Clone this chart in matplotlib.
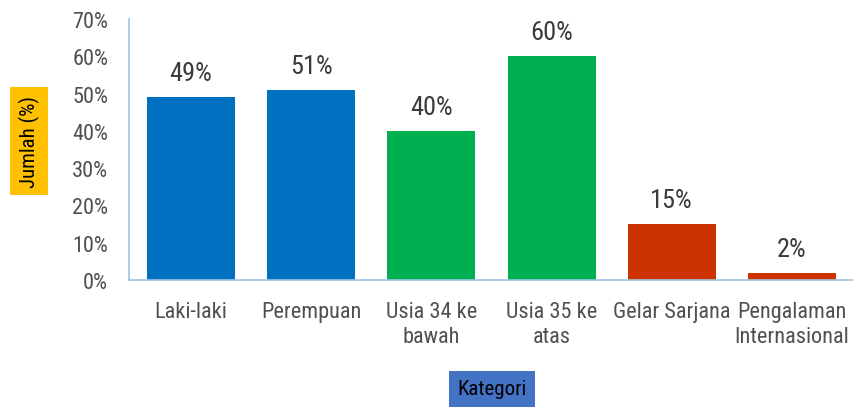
import matplotlib
matplotlib.use("Agg")
import matplotlib.pyplot as plt
from matplotlib import font_manager

categories = ["Laki-laki", "Perempuan", "Usia 34 ke\nbawah", "Usia 35 ke\natas", "Gelar Sarjana", "Pengalaman\nInternasional"]
values = [49, 51, 40, 60, 15, 2]
colors = ["#0070C0", "#0070C0", "#00B050", "#00B050", "#CC3300", "#CC3300"]
yticks = [0, 10, 20, 30, 40, 50, 60, 70]
ytick_labels = [f"{v}%" for v in yticks]

avail = {f.name for f in font_manager.fontManager.ttflist}
fam = [f for f in ["Roboto Condensed", "Liberation Sans Narrow", "Roboto", "DejaVu Sans"] if f in avail]
plt.rcParams['font.family'] = fam

fig = plt.figure(figsize=(8.54, 4.10), dpi=100)
ax = fig.add_axes([129/854, 1-281/410, 1-129/854, 261/410])
x = list(range(len(categories)))
ax.bar(x, values, width=0.733, color=colors, zorder=2)
ax.set_xlim(-0.517, 5.517)
ax.set_ylim(0, 70)
ax.set_yticks(yticks)
ax.set_yticklabels(ytick_labels)
ax.set_xticks(x)
ax.set_xticklabels(categories, linespacing=1.25)
for s in ["top", "right"]:
    ax.spines[s].set_visible(False)
for s in ["left", "bottom"]:
    ax.spines[s].set_color("#9DC3E6")
    ax.spines[s].set_linewidth(1.2)
ax.tick_params(axis="both", length=0, labelsize=16, colors="#505050")
ax.tick_params(axis="y", pad=15)
ax.tick_params(axis="x", pad=15)
for xi, v in zip(x, values):
    ax.text(xi, v + 3.2, f"{v}%", ha="center", va="bottom", fontsize=19, color="#3A3A3A")

fig.text(29/854, 1-142/410, "Jumlah (%)", rotation=90, ha="center", va="center", fontsize=15, color="black",
         bbox=dict(boxstyle="square,pad=0.4", facecolor="#FFC000", edgecolor="none"))
fig.text(492/854, 1-390/410, "Kategori", ha="center", va="center", fontsize=15, color="black",
         bbox=dict(boxstyle="square,pad=0.4", facecolor="#4472C4", edgecolor="none"))
fig.savefig("out.png", dpi=100)
